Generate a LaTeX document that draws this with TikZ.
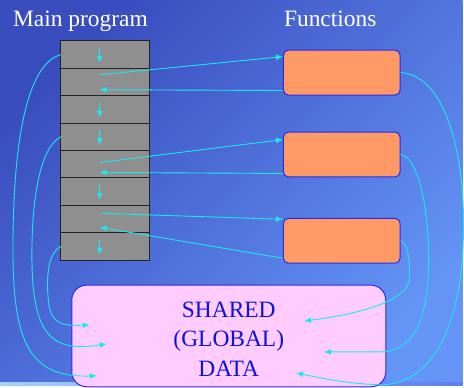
\documentclass[tikz,border=0pt]{standalone}
\usepackage{fontspec}
\setmainfont{Liberation Serif}
\usetikzlibrary{arrows.meta}

\begin{document}
\begin{tikzpicture}[x=1pt,y=-1pt,
  rowcell/.style={draw=rowedge, line width=1pt, fill=rowgray, minimum width=89pt, minimum height=27.5pt, inner sep=0pt, outer sep=0pt},
  funcbox/.style={draw=boxedge, line width=1pt, fill=funcorange, rounded corners=5pt, minimum width=117pt, minimum height=45pt, inner sep=0pt},
  flow/.style={draw=flowcyan, line width=0.9pt, -{Latex[length=7pt,width=6pt]}},
  title/.style={text=white, font=\fontsize{23.5}{28}\selectfont, anchor=base west, inner sep=0pt}]
  % Define colors
  \definecolor{bgdark}{HTML}{3A4DBE}
  \definecolor{bglight}{HTML}{6494F6}
  \definecolor{rowgray}{HTML}{8F8F8F}
  \definecolor{rowedge}{HTML}{222222}
  \definecolor{funcorange}{HTML}{FF9966}
  \definecolor{boxedge}{HTML}{2A2AEE}
  \definecolor{datapink}{HTML}{FFCCFF}
  \definecolor{datablue}{HTML}{1010E0}
  \definecolor{flowcyan}{HTML}{1CE8F2}
  \definecolor{striplight}{HTML}{A8D0F8}
  \definecolor{stripdark}{HTML}{5B7FF0}

  % Background
  \shade[top color=bgdark, bottom color=bglight, shading angle=45] (0,0) rectangle (464,387);
  \shade[left color=striplight, right color=stripdark] (0,384) rectangle (464,387);

  % Titles
  \node[title] (maintitle) at (13,27) {Main program};
  \node[title] (functitle) at (284.7,27) {Functions};

  % Main program steps
  \foreach \i in {1,...,8}
    \node[rowcell] (r\i) at (105.5,27.25+27.5*\i) {};
  \foreach \i in {1,3,4,6,8}
    \draw[flow] ([xshift=-5.5pt,yshift=-7pt]r\i.north) -- ([xshift=-5.5pt,yshift=-22pt]r\i.north);

  % Functions
  \node[funcbox] (f1) at (342.8,72.8) {};
  \node[funcbox] (f2) at (342.8,155) {};
  \node[funcbox] (f3) at (342.8,241.5) {};

  % Shared data
  \node[draw=boxedge, line width=1pt, fill=datapink, rounded corners=15pt,
        minimum width=315pt, minimum height=102pt,
        label={[text=datablue, align=center, yshift=-3pt,
                font=\fontsize{23.5}{29.5}\selectfont]center:SHARED\\(GLOBAL)\\DATA}] (data) at (229.5,337) {};

  % Calls and returns
  \draw[flow] ([xshift=-5.5pt,yshift=7.25pt]r2.center) -- ([yshift=16pt]f1.west);
  \draw[flow] ([yshift=-18pt]f1.west) -- ([xshift=-5.5pt,yshift=-7.75pt]r2.center);
  \draw[flow] ([xshift=-5.5pt,yshift=1.75pt]r5.center) -- ([yshift=15pt]f2.west);
  \draw[flow] ([yshift=-19pt]f2.west) -- ([xshift=-5.5pt,yshift=-8.25pt]r5.center);
  \draw[flow] ([xshift=-3.5pt,yshift=5.75pt]r7.center) -- ([yshift=21.5pt]f3.west);
  \draw[flow] ([yshift=-17.5pt]f3.west) -- ([xshift=-5.5pt,yshift=-8.25pt]r7.center);

  % Data access from main program
  \draw[flow] (r1.west) .. controls (25,65) and (13,150) .. (13,250)
    .. controls (13,345) and (30,379) .. ([xshift=-132.5pt,yshift=-40pt]data.center);
  \draw[flow] (r4.west) .. controls (40,148) and (32,200) .. (32,255)
    .. controls (32,335) and (50,354) .. ([xshift=-122.5pt,yshift=-8pt]data.center);
  \draw[flow] (r8.west) .. controls (45,255) and (47,290) .. (49,305)
    .. controls (52,325) and (62,327) .. ([xshift=-139.5pt,yshift=11pt]data.center);

  % Data access from functions
  \draw[flow] (f1.east) .. controls (442,75) and (465,140) .. (465,225)
    .. controls (465,330) and (432,387) .. (380,386)
    .. controls (350,385) and (320,379) .. ([xshift=67.5pt,yshift=-37pt]data.center);
  \draw[flow] (f2.east) .. controls (420,158) and (430,210) .. (430,260)
    .. controls (430,330) and (410,353) .. (380,353) -- ([xshift=95.5pt,yshift=-16pt]data.center);
  \draw[flow] (f3.east) .. controls (409,244) and (411,260) .. (411,278)
    .. controls (411,302) and (360,315) .. ([xshift=75.5pt,yshift=15pt]data.center);
\end{tikzpicture}
\end{document}
